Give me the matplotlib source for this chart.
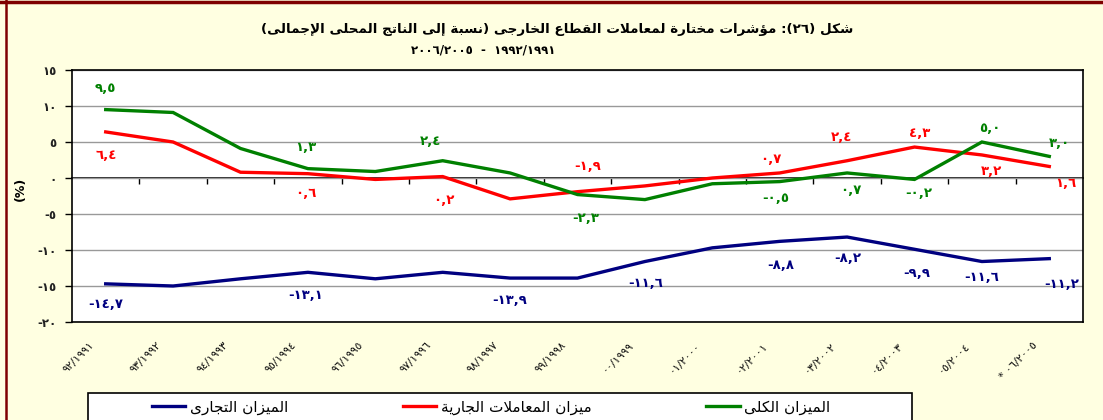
import re
import numpy as np
import matplotlib
matplotlib.use("Agg")
import matplotlib.pyplot as plt
from matplotlib.lines import Line2D
from matplotlib.patches import Rectangle
import matplotlib.transforms as mtransforms

plt.rcParams['font.family'] = ['DejaVu Sans']

# ---- data ----
years = ["٩٢/١٩٩١", "٩٣/١٩٩٢", "٩٤/١٩٩٣", "٩٥/١٩٩٤", "٩٦/١٩٩٥", "٩٧/١٩٩٦",
         "٩٨/١٩٩٧", "٩٩/١٩٩٨", "٠٠/١٩٩٩", "٠١/٢٠٠٠", "٠٢/٢٠٠١", "٠٣/٢٠٠٢",
         "٠٤/٢٠٠٣", "٠٥/٢٠٠٤", "* ٠٦/٢٠٠٥"]
trade = [-14.7, -15.0, -14.0, -13.1, -14.0, -13.1, -13.9, -13.9, -11.6, -9.7,
         -8.8, -8.2, -9.9, -11.6, -11.2]
current = [6.4, 5.0, 0.8, 0.6, -0.2, 0.2, -2.9, -1.9, -1.1, 0.0,
           0.7, 2.4, 4.3, 3.2, 1.6]
overall = [9.5, 9.1, 4.1, 1.3, 0.9, 2.4, 0.7, -2.3, -3.0, -0.8,
           -0.5, 0.7, -0.2, 5.0, 3.0]
yticks = [-20, -15, -10, -5, 0, 5, 10, 15]

title = "شكل (٢٦): مؤشرات مختارة لمعاملات القطاع الخارجى (نسبة إلى الناتج المحلى الإجمالى)"
subtitle = "٢٠٠٦/٢٠٠٥  -  ١٩٩٢/١٩٩١"
names = ["الميزان التجارى", "ميزان المعاملات الجارية", "الميزان الكلى"]

# which points carry a value label, and where (pixel offsets)
trade_lbl = {0: (0, -21), 3: (-2, -23), 6: (0, -22), 8: (1, -22), 10: (1, -24),
             11: (1, -21), 12: (2, -24), 13: (0, -16), 14: (12, -26)}
current_lbl = {0: (0, -24), 3: (-2, -20), 5: (1, -24), 7: (10, 25), 10: (-9, 13),
               11: (-6, 23), 12: (5, 14), 13: (10, -17), 14: (17, -17)}
overall_lbl = {0: (0, 21), 3: (-2, 21), 5: (-12, 19), 7: (8, -24), 10: (-4, -17),
               11: (4, -18), 12: (4, -14), 13: (8, 14), 14: (10, 13)}

# ---- minimal arabic shaping (matplotlib has no bidi) ----
DUAL = {'ئ': 0xFE89, 'ب': 0xFE8F, 'ت': 0xFE95, 'ث': 0xFE99, 'ج': 0xFE9D, 'ح': 0xFEA1,
        'خ': 0xFEA5, 'س': 0xFEB1, 'ش': 0xFEB5, 'ص': 0xFEB9, 'ض': 0xFEBD, 'ط': 0xFEC1,
        'ظ': 0xFEC5, 'ع': 0xFEC9, 'غ': 0xFECD, 'ف': 0xFED1, 'ق': 0xFED5, 'ك': 0xFED9,
        'ل': 0xFEDD, 'م': 0xFEE1, 'ن': 0xFEE5, 'ه': 0xFEE9, 'ي': 0xFEF1}
RIGHT = {'آ': 0xFE81, 'أ': 0xFE83, 'ؤ': 0xFE85, 'إ': 0xFE87, 'ا': 0xFE8D, 'ة': 0xFE93,
         'د': 0xFEA9, 'ذ': 0xFEAB, 'ر': 0xFEAD, 'ز': 0xFEAF, 'و': 0xFEED, 'ى': 0xFEEF}
LAM_ALEF = {'آ': 0xFEF5, 'أ': 0xFEF7, 'إ': 0xFEF9, 'ا': 0xFEFB}


def shape(s):
    toks = []
    i = 0
    while i < len(s):
        if s[i] == 'ل' and i + 1 < len(s) and s[i + 1] in LAM_ALEF:
            toks.append(('LA', s[i + 1]))
            i += 2
        else:
            toks.append(('C', s[i]))
            i += 1

    def fwd(t):
        return t[0] == 'C' and t[1] in DUAL

    def back(t):
        return t[0] == 'LA' or t[1] in DUAL or t[1] in RIGHT

    out = []
    for k, t in enumerate(toks):
        p = k > 0 and fwd(toks[k - 1]) and back(t)
        n = k + 1 < len(toks) and back(toks[k + 1]) and fwd(t)
        if t[0] == 'LA':
            out.append(chr(LAM_ALEF[t[1]] + p))
        elif t[1] in DUAL:
            out.append(chr(DUAL[t[1]] + (3 if p and n else 2 if n else 1 if p else 0)))
        elif t[1] in RIGHT:
            out.append(chr(RIGHT[t[1]] + p))
        else:
            out.append(t[1])
    return ''.join(out)


def rtl(s):
    runs = re.findall(r'[0-9٠-٩]+|[^0-9٠-٩]+', shape(s))
    mirror = {'(': ')', ')': '('}
    vis = []
    for r in reversed(runs):
        if r[0] in '0123456789٠١٢٣٤٥٦٧٨٩':
            vis.append(r)
        else:
            vis.append(''.join(mirror.get(c, c) for c in reversed(r)))
    return ''.join(vis)


def ar_num(v, fmt="{:.1f}"):
    s = fmt.format(v).replace('.', ',')
    return s.translate(str.maketrans('0123456789', '٠١٢٣٤٥٦٧٨٩'))


# ---- figure ----
bg = '#FFFFE1'
fig = plt.figure(figsize=(11.03, 4.2), dpi=100, facecolor=bg)
ax = fig.add_axes([72 / 1103, 1 - 322 / 420, (1083 - 72) / 1103, 252 / 420])
ax.set_facecolor('white')

x = np.arange(len(years))
series = [(trade, '#000080', trade_lbl), (current, '#FF0000', current_lbl),
          (overall, '#008000', overall_lbl)]
handles = []
for (vals, col, lbl), name in zip(series, names):
    h, = ax.plot(x, vals, color=col, lw=2.4, solid_joinstyle='miter', zorder=3)
    handles.append(h)
    for i, (dx, dy) in lbl.items():
        ax.annotate(ar_num(vals[i]), (x[i], vals[i]), xytext=(dx, dy),
                    textcoords='offset pixels', ha='center', va='center',
                    color=col, fontsize=9.5, fontweight='bold', zorder=4)

ax.set_xlim(-0.5, len(years) - 0.5)
ax.set_ylim(-20, 15)
ax.set_yticks(yticks)
ax.set_yticklabels([ar_num(v, "{:d}") for v in yticks], fontsize=8.5,
                   fontweight='bold', color='#222222')
ax.yaxis.grid(True, color='#999999', lw=1)
ax.set_axisbelow(True)
ax.tick_params(axis='y', direction='out', length=5, width=1, pad=6)

ax.set_xticks(x)
ax.set_xticklabels(years, rotation=45, ha='right', fontsize=8, color='#111111')
ax.tick_params(axis='x', length=0, pad=13)
shift = mtransforms.ScaledTranslation(-10 / 100, 0, fig.dpi_scale_trans)
for t in ax.get_xticklabels():
    t.set_transform(t.get_transform() + shift)

for s in ax.spines.values():
    s.set_color('black')
    s.set_linewidth(1.2)

# category axis crossing at zero
sec = ax.secondary_xaxis(20 / 35)
sec.set_xticks(np.arange(0.5, len(years) - 1, 1.0))
sec.xaxis.set_ticks_position('bottom')
sec.tick_params(direction='out', length=4, width=1, labelbottom=False, labeltop=False)
for s in sec.spines.values():
    s.set_linewidth(1.2)
    s.set_color('black')

ax.set_ylabel('(%)', fontsize=9, fontweight='bold')
ax.yaxis.set_label_coords(-0.045, 0.53)

fig.text(557 / 1103, 1 - 30 / 420, rtl(title), ha='center', va='center',
         fontsize=9.7, fontweight='bold')
fig.text(483 / 1103, 1 - 50 / 420, subtitle, ha='center', va='center',
         fontsize=8.5, fontweight='bold')

# legend box
fig.patches.append(Rectangle((88 / 1103, -0.05), (912 - 88) / 1103, 0.05 + 27 / 420,
                             transform=fig.transFigure, facecolor='white',
                             edgecolor='black', lw=1.2))
fig.legend(handles, [rtl(n) for n in names], ncol=3, frameon=False,
           loc='center left', bbox_to_anchor=(138 / 1103, 1 - 407 / 420),
           fontsize=11, handlelength=2.2, handletextpad=0.3, columnspacing=7.5)

# page border
fig.add_artist(Line2D([6 / 1103, 6 / 1103], [0, 1], transform=fig.transFigure,
                      color='#7F0000', lw=1.8))
fig.add_artist(Line2D([0, 1], [1 - 1.5 / 420, 1 - 1.5 / 420], transform=fig.transFigure,
                      color='#7F0000', lw=2.5))

fig.savefig('out.png', dpi=100, facecolor=bg)
